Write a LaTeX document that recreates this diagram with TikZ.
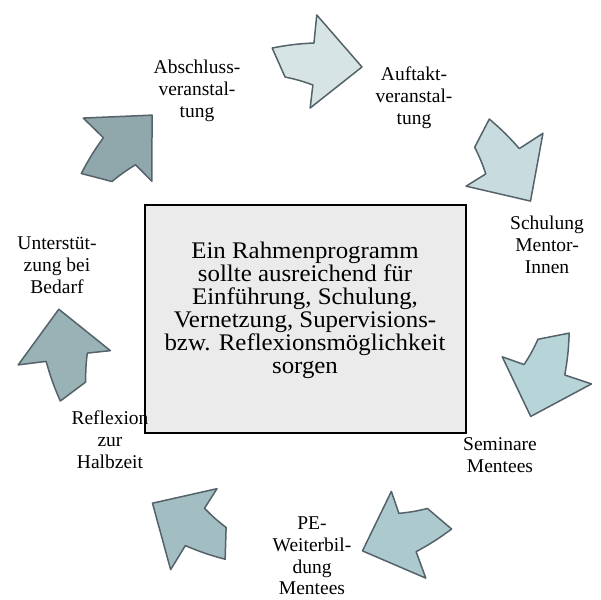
\documentclass[tikz,border=0pt]{standalone}
\usepackage{fontspec}
\setmainfont{LiberationSerif}[Extension=.ttf, UprightFont=*-Regular, BoldFont=*-Bold, ItalicFont=*-Italic, BoldItalicFont=*-BoldItalic]
\newfontfamily\boxfont{LiberationSerif}[Extension=.ttf, UprightFont=*-Regular, FakeStretch=1.045]
\definecolor{arrowline}{RGB}{84,98,106}
\definecolor{boxfill}{RGB}{235,235,235}
\definecolor{ca}{RGB}{214,228,228}
\definecolor{cb}{RGB}{200,220,224}
\definecolor{cc}{RGB}{183,212,217}
\definecolor{cd}{RGB}{172,201,206}
\definecolor{ce}{RGB}{163,190,195}
\definecolor{cf}{RGB}{153,178,182}
\definecolor{cg}{RGB}{144,167,171}
\begin{document}
\begin{tikzpicture}[x=1pt,y=1pt,
  arrowshape/.style={draw=arrowline, line width=1.5pt, line join=round},
  lbl/.style={align=center, font=\rmfamily\fontsize{19.5}{21.8}\selectfont, inner sep=0pt},
  mainbox/.style={draw=black, fill=boxfill, line width=1.5pt,
    minimum width=321pt, minimum height=228pt, inner sep=0pt},
  boxtext/.style={align=center, inner sep=0pt,
    font=\boxfont\fontsize{23.8}{23}\selectfont}]
\useasboundingbox (0,0) rectangle (601,599);
\coordinate (O) at (307,290);
\foreach \k/\col in {0/ca,1/cb,2/cc,3/cd,4/ce,5/cf,6/cg} {
  \begin{scope}[shift={(O)}, rotate=-\k*51.4286]
    \path[arrowshape, fill=\col] (97.6:263.3) to[bend left=4] (88.5:266.1)
      -- (88.1:294.2) -- (77.2:248.2) -- (89.1:201) -- (88.5:224.1)
      to[bend right=4] (95.4:233) -- cycle;
  \end{scope}
}
\node[mainbox] (box) at (305.5,280) {};
\node[boxtext] (btext) at (305,289) {Ein Rahmenprogramm\\sollte ausreichend für\\Einführung, Schulung,\\Vernetzung, Supervisions-\\bzw. Reflexionsmöglichkeit\\sorgen};
\node[lbl] (l1) at (414,501) {Auftakt-\\veranstal-\\tung};
\node[lbl] (l2) at (547,354) {Schulung\\Mentor-\\Innen};
\node[lbl] (l3) at (500,144) {Seminare\\Mentees};
\node[lbl] (l4) at (312,43) {PE-\\Weiterbil-\\dung\\Mentees};
\node[lbl] (l5) at (110,159) {Reflexion\\zur\\Halbzeit};
\node[lbl] (l6) at (57,334) {Unterstüt-\\zung bei\\Bedarf};
\node[lbl] (l7) at (197,508) {Abschluss-\\veranstal-\\tung};
\end{tikzpicture}
\end{document}
